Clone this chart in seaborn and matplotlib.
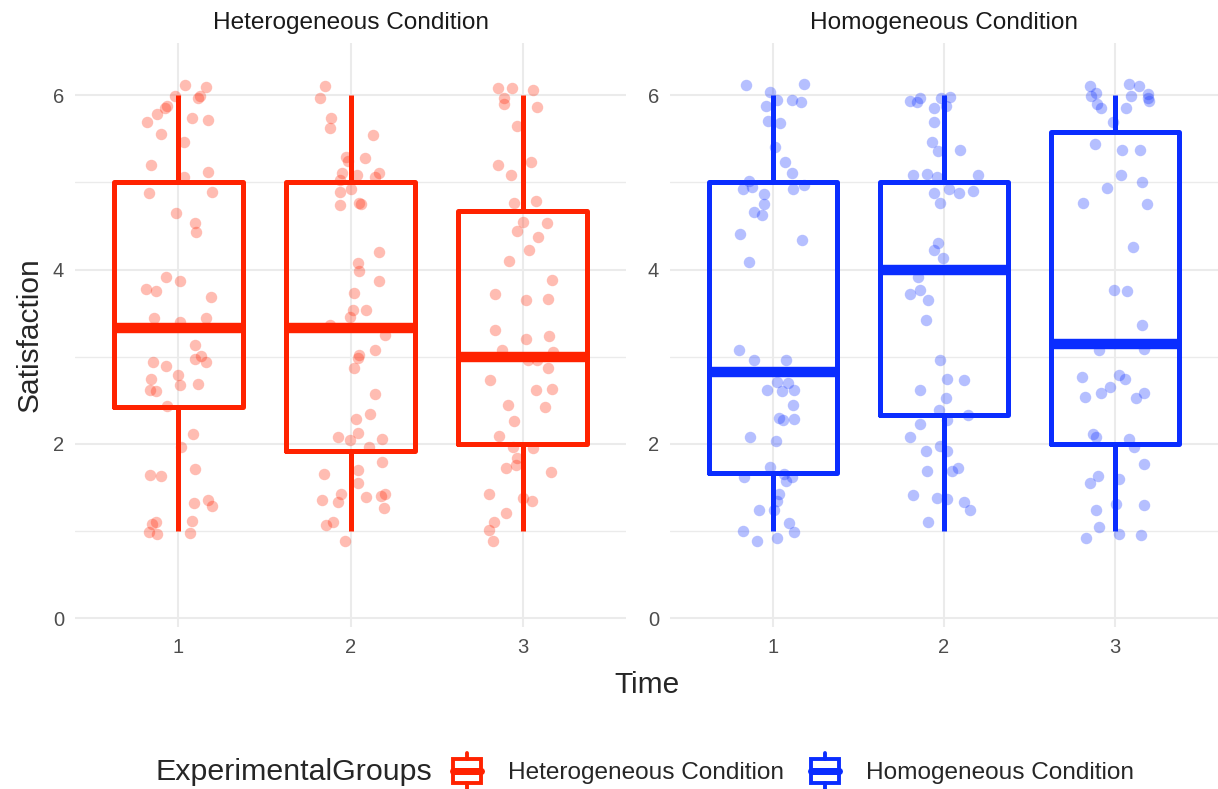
"""
Satisfaction over time, boxplots with jittered points, one panel per
experimental group.
"""

import pandas as pd
import matplotlib
matplotlib.use("Agg")
import matplotlib.pyplot as plt
import seaborn as sns
from matplotlib.legend_handler import HandlerBase
from matplotlib.patches import Patch, Rectangle
from matplotlib.lines import Line2D

GROUPS = ["Heterogeneous Condition", "Homogeneous Condition"]
GROUP_COLORS = ["#FF2200", "#0A2DFF"]
TIMES = [1, 2, 3]
TIME_LABELS = ["1", "2", "3"]
Y_TICKS = [0, 2, 4, 6]

# box statistics per time point
het_whislo = [1.0, 1.0, 1.0]
het_q1 = [2.42, 1.92, 2.0]
het_med = [3.33, 3.33, 3.0]
het_q3 = [5.0, 5.0, 4.67]
het_whishi = [6.0, 6.0, 6.0]

hom_whislo = [1.0, 1.0, 1.0]
hom_q1 = [1.67, 2.33, 2.0]
hom_med = [2.83, 4.0, 3.15]
hom_q3 = [5.0, 5.0, 5.58]
hom_whishi = [6.0, 6.0, 6.0]

# jittered satisfaction scores (y) and horizontal jitter (dx)
het_t1_y = [6.12, 6.10, 5.99, 5.99, 5.97, 5.88, 5.85, 5.78, 5.74, 5.72, 5.69, 5.56,
            5.46, 5.20, 5.12, 5.06, 4.88, 4.89, 4.65, 4.54, 4.43, 3.91, 3.87, 3.78,
            3.76, 3.69, 3.45, 3.40, 3.45, 3.13, 2.97, 3.01, 2.94, 2.94, 2.89, 2.79,
            2.75, 2.68, 2.69, 2.62, 2.61, 2.43, 2.12, 1.97, 1.71, 1.64, 1.63, 1.32,
            1.36, 1.29, 1.10, 1.08, 1.12, 0.99, 0.97, 0.98]
het_t1_dx = [0.037, 0.163, -0.021, 0.124, 0.114, -0.066, -0.079, -0.124, 0.078, 0.174,
             -0.182, -0.099, 0.031, -0.157, 0.172, 0.031, -0.172, 0.198, -0.012, 0.095,
             0.101, -0.074, 0.012, -0.190, -0.128, 0.192, -0.143, 0.012, 0.159, 0.095,
             0.095, 0.134, 0.159, -0.147, -0.070, -0.002, -0.157, 0.012, 0.114, -0.163,
             -0.132, -0.066, 0.085, 0.017, 0.095, -0.167, -0.099, 0.089, 0.172, 0.198,
             -0.132, -0.151, 0.081, -0.172, -0.124, 0.070]

het_t2_y = [6.11, 5.97, 5.74, 5.62, 5.55, 5.29, 5.28, 5.25, 5.11, 5.11, 5.09, 5.03,
            5.06, 4.93, 4.89, 4.76, 4.75, 4.74, 4.20, 4.08, 3.99, 3.87, 3.73, 3.54,
            3.54, 3.46, 3.36, 3.25, 3.02, 2.99, 3.08, 2.87, 2.57, 2.34, 2.29, 2.13,
            2.08, 2.05, 2.06, 1.97, 1.79, 1.70, 1.66, 1.55, 1.43, 1.33, 1.36, 1.39,
            1.40, 1.43, 1.27, 1.11, 1.07, 0.89]
het_t2_dx = [-0.151, -0.176, -0.114, -0.122, 0.130, -0.025, 0.085, -0.012, -0.050, 0.163,
             0.037, -0.064, 0.143, 0.002, -0.060, 0.052, 0.060, -0.064, 0.163, 0.041,
             0.052, 0.163, 0.021, 0.014, 0.091, -0.006, -0.118, 0.202, 0.052, 0.041,
             0.143, 0.021, 0.143, 0.114, 0.033, 0.041, -0.070, -0.006, 0.182, 0.105,
             0.182, 0.041, -0.157, 0.041, -0.056, -0.070, -0.167, 0.091, 0.176, 0.202,
             0.192, -0.103, -0.141, -0.031]

het_t3_y = [6.08, 6.08, 6.06, 5.97, 5.90, 5.87, 5.65, 5.24, 5.20, 5.09, 4.76, 4.79,
            4.55, 4.53, 4.44, 4.38, 4.22, 4.10, 3.88, 3.72, 3.65, 3.66, 3.31, 3.20,
            3.24, 3.08, 3.05, 2.96, 2.96, 2.87, 2.73, 2.62, 2.63, 2.45, 2.42, 2.26,
            2.09, 1.96, 1.95, 1.84, 1.76, 1.72, 1.68, 1.43, 1.38, 1.34, 1.21, 1.11,
            1.01, 0.89]
het_t3_dx = [-0.141, -0.060, 0.062, -0.109, -0.109, 0.081, -0.031, 0.047, -0.141, -0.070,
             -0.050, 0.078, 0.000, 0.143, -0.031, 0.091, 0.039, -0.078, 0.169, -0.161,
             0.019, 0.149, -0.161, 0.017, 0.155, -0.122, 0.178, 0.033, 0.085, 0.149,
             -0.190, 0.078, 0.169, -0.083, 0.130, -0.050, -0.136, -0.054, 0.058, -0.031,
             -0.039, -0.097, 0.163, -0.194, 0.000, 0.052, -0.097, -0.167, -0.194, -0.171]

hom_t1_y = [6.12, 6.13, 6.04, 5.95, 5.95, 5.92, 5.88, 5.71, 5.68, 5.41, 5.23, 5.11,
            5.02, 4.93, 4.95, 4.92, 4.97, 4.87, 4.75, 4.66, 4.63, 4.41, 4.34, 4.09,
            3.08, 2.96, 2.96, 2.71, 2.70, 2.62, 2.61, 2.62, 2.45, 2.30, 2.28, 2.29,
            2.08, 2.03, 1.74, 1.66, 1.62, 1.62, 1.57, 1.43, 1.34, 1.24, 1.24, 1.09,
            1.00, 0.99, 0.89, 0.92]
hom_t1_dx = [-0.155, 0.182, -0.019, 0.023, 0.110, 0.163, -0.039, -0.025, 0.043, 0.014,
             0.072, 0.110, -0.141, -0.174, -0.122, 0.120, 0.182, -0.050, -0.054, -0.109,
             -0.064, -0.194, 0.169, -0.138, -0.200, -0.109, 0.078, 0.023, 0.091, -0.031,
             0.052, 0.124, 0.116, 0.039, 0.062, 0.124, -0.132, 0.019, -0.019, 0.066,
             -0.167, 0.110, 0.078, 0.039, 0.027, 0.008, -0.083, 0.097, -0.174, 0.124,
             -0.093, 0.027]

hom_t2_y = [5.94, 5.92, 5.97, 5.97, 5.98, 5.86, 5.88, 5.69, 5.46, 5.36, 5.37, 5.08,
            5.10, 5.06, 5.09, 4.88, 4.92, 4.88, 4.90, 4.76, 4.30, 4.22, 4.13, 3.91,
            3.77, 3.72, 3.65, 3.42, 2.96, 2.75, 2.73, 2.62, 2.53, 2.39, 2.33, 2.28,
            2.23, 2.08, 1.98, 1.92, 1.92, 1.69, 1.69, 1.72, 1.41, 1.38, 1.37, 1.33,
            1.24, 1.10]
hom_t2_dx = [-0.200, -0.157, -0.138, -0.016, 0.037, -0.060, 0.010, -0.060, -0.068, -0.035,
             0.095, -0.184, -0.099, -0.041, 0.198, -0.060, 0.029, 0.087, 0.169, -0.021,
             -0.035, -0.060, -0.006, -0.151, -0.141, -0.200, -0.093, -0.107, -0.025, 0.017,
             0.114, -0.138, 0.014, -0.029, 0.140, 0.017, -0.141, -0.200, -0.025, 0.017,
             -0.107, -0.099, 0.048, 0.081, -0.184, -0.041, 0.017, 0.114, 0.153, -0.093]

hom_t3_y = [6.11, 6.03, 5.99, 6.13, 6.11, 6.01, 5.99, 5.94, 5.97, 5.90, 5.86, 5.86,
            5.69, 5.44, 5.37, 5.37, 5.08, 5.00, 4.94, 4.76, 4.75, 4.26, 3.77, 3.75,
            3.36, 3.08, 3.09, 2.77, 2.79, 2.74, 2.65, 2.59, 2.54, 2.58, 2.53, 2.11,
            2.08, 2.06, 1.97, 1.77, 1.63, 1.55, 1.60, 1.31, 1.30, 1.24, 1.05, 0.97,
            0.95, 0.92]
hom_t3_dx = [-0.147, -0.112, -0.141, 0.078, 0.136, 0.194, 0.091, 0.198, 0.194, -0.109,
             -0.083, 0.062, -0.012, -0.116, 0.039, 0.143, 0.033, 0.159, -0.048, -0.186,
             0.188, 0.101, -0.010, 0.066, 0.159, -0.097, 0.169, -0.194, 0.019, 0.058,
             -0.031, -0.083, -0.176, 0.169, 0.124, -0.128, -0.112, 0.078, 0.110, 0.169,
             -0.103, -0.147, 0.019, 0.004, 0.169, -0.112, -0.093, 0.019, 0.149, -0.171]

POINTS = {
    "Heterogeneous Condition": [(het_t1_y, het_t1_dx), (het_t2_y, het_t2_dx),
                                (het_t3_y, het_t3_dx)],
    "Homogeneous Condition": [(hom_t1_y, hom_t1_dx), (hom_t2_y, hom_t2_dx),
                              (hom_t3_y, hom_t3_dx)],
}
BOXES = {
    "Heterogeneous Condition": (het_whislo, het_q1, het_med, het_q3, het_whishi),
    "Homogeneous Condition": (hom_whislo, hom_q1, hom_med, hom_q3, hom_whishi),
}


class BoxKeyHandler(HandlerBase):
    """Legend key that looks like a little boxplot (ggplot style)."""

    def create_artists(self, legend, orig_handle, xdescent, ydescent,
                       width, height, fontsize, trans):
        c = orig_handle.get_edgecolor()
        x0, y0 = -xdescent, -ydescent
        cx = x0 + width / 2
        lw = 2.8
        box = Rectangle((x0, y0 + 0.15 * height), width, 0.7 * height,
                        fill=False, edgecolor=c, linewidth=lw, transform=trans)
        med = Line2D([x0, x0 + width], [y0 + 0.5 * height] * 2,
                     color=c, lw=lw * 1.8, transform=trans)
        w_lo = Line2D([cx, cx], [y0, y0 + 0.15 * height],
                      color=c, lw=lw, transform=trans)
        w_hi = Line2D([cx, cx], [y0 + 0.85 * height, y0 + height],
                      color=c, lw=lw, transform=trans)
        return [box, med, w_lo, w_hi]


def build_points(group):
    rows = []
    for t, (ys, dxs) in zip(TIMES, POINTS[group]):
        for y, dx in zip(ys, dxs):
            rows.append({"Time": t, "Satisfaction": y, "x": t + dx})
    return pd.DataFrame(rows)


def build_stats(group):
    whislo, q1, med, q3, whishi = BOXES[group]
    return [{"whislo": a, "q1": b, "med": m, "q3": c, "whishi": d, "fliers": []}
            for a, b, m, c, d in zip(whislo, q1, med, q3, whishi)]


def draw_panel(ax, group, color):
    df = build_points(group)

    sns.scatterplot(data=df, x="x", y="Satisfaction", color=color, alpha=0.3,
                    s=68, linewidth=0, legend=False, ax=ax, zorder=2)
    line = {"color": color, "linewidth": 3.6, "solid_capstyle": "butt"}
    ax.bxp(build_stats(group), positions=TIMES, widths=0.75,
           showfliers=False, showcaps=False, patch_artist=False,
           boxprops={"color": color, "linewidth": 3.6},
           whiskerprops=line,
           medianprops={"color": color, "linewidth": 7.5,
                        "solid_capstyle": "butt"},
           zorder=3)

    ax.set_xlim(0.4, 3.6)
    ax.set_ylim(-0.1, 6.6)
    ax.set_xticks(TIMES)
    ax.set_xticklabels(TIME_LABELS)
    ax.set_yticks(Y_TICKS)
    ax.set_yticklabels([str(v) for v in Y_TICKS])
    ax.set_yticks([1, 3, 5], minor=True)
    ax.grid(True, which="major", color="#EBEBEB", linewidth=1.5)
    ax.grid(True, which="minor", axis="y", color="#EBEBEB", linewidth=1.0)
    ax.set_axisbelow(True)
    for side in ax.spines.values():
        side.set_visible(False)
    ax.tick_params(which="both", length=0, labelsize=14.5,
                   labelcolor="#4D4D4D", pad=8)
    ax.set_xlabel("")
    ax.set_ylabel("")
    ax.set_title(group, fontsize=17.6, color="#1A1A1A", pad=10)


def main():
    sns.set_theme(style="white")
    plt.rcParams["font.family"] = ["Liberation Sans", "DejaVu Sans"]

    fig = plt.figure(figsize=(12.18, 7.89), dpi=100)
    ax_left = fig.add_axes([0.0616, 0.2053, 0.4524, 0.7402])
    ax_right = fig.add_axes([0.5501, 0.2053, 0.4499, 0.7402])

    for ax, group, color in zip([ax_left, ax_right], GROUPS, GROUP_COLORS):
        draw_panel(ax, group, color)

    fig.text(647 / 1218, 1 - 685 / 789, "Time", ha="center", va="center",
             fontsize=21.5)
    fig.text(30 / 1218, 1 - 335 / 789, "Satisfaction", ha="center",
             va="center", rotation=90, fontsize=21.5)

    # legend: title on the left, boxplot keys after it
    fig.text(156 / 1218, 1 - 772 / 789, "ExperimentalGroups", ha="left",
             va="center", fontsize=21.9)
    handles = [Patch(edgecolor=c, facecolor="none") for c in GROUP_COLORS]
    fig.legend(handles, GROUPS, loc="center left",
               bbox_to_anchor=(453 / 1218, 1 - 771 / 789), ncol=2,
               frameon=False, fontsize=17.6, handlelength=1.15,
               handleheight=1.85, handletextpad=1.1, columnspacing=1.1,
               borderpad=0, borderaxespad=0,
               handler_map={Patch: BoxKeyHandler()})

    fig.savefig("out.png", dpi=100)
    plt.close(fig)


if __name__ == "__main__":
    main()
